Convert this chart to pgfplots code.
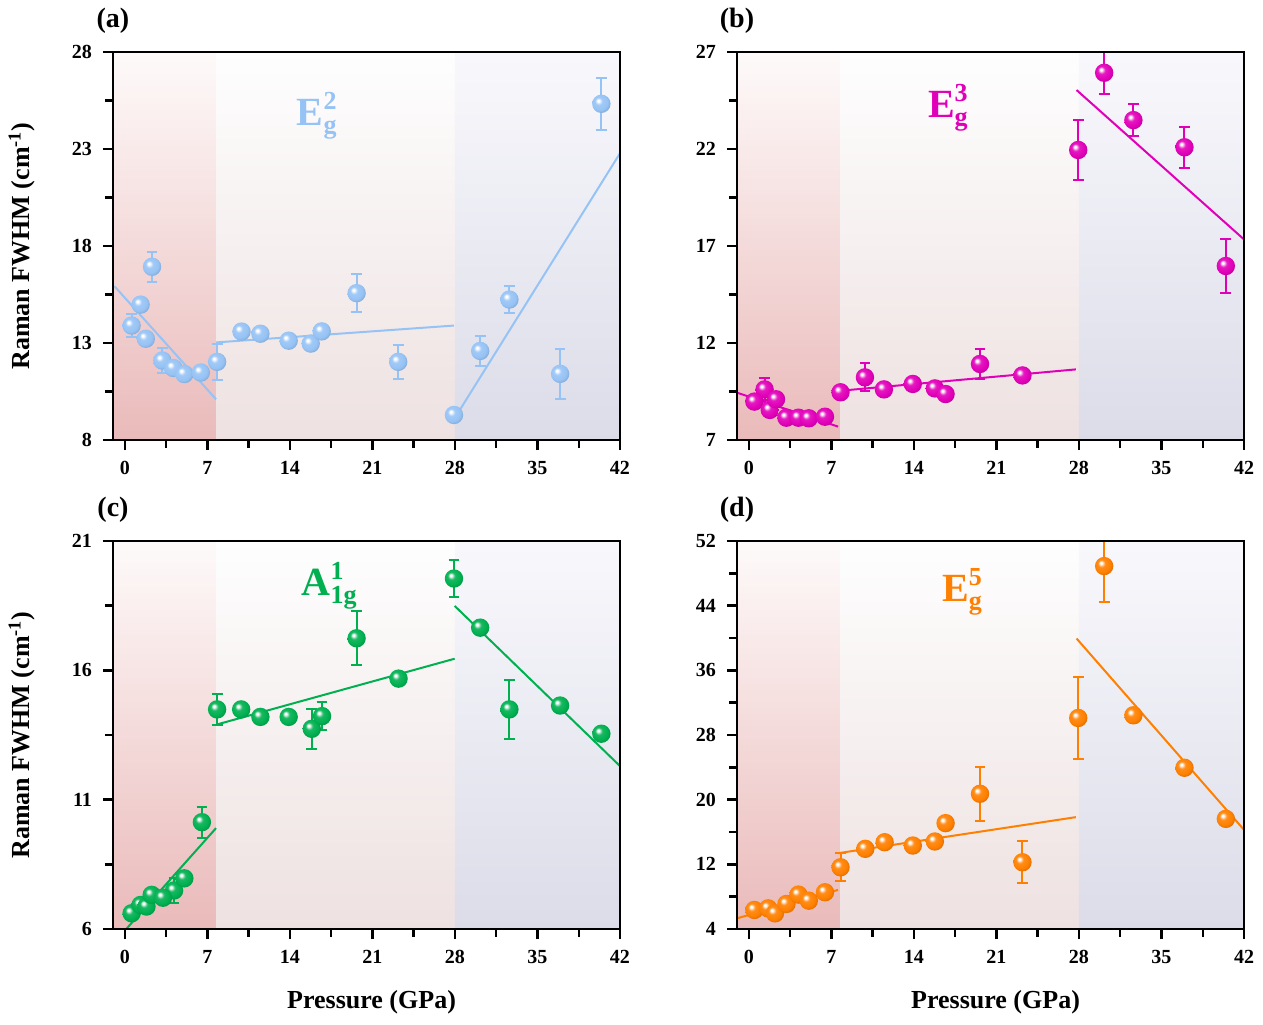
\documentclass[border=0pt]{standalone}
\usepackage{fontspec}
\setmainfont{Liberation Serif}
\usepackage{pgfplots}
\pgfplotsset{compat=1.18}

\definecolor{cA}{RGB}{150,195,245}
\definecolor{cB}{RGB}{225,0,185}
\definecolor{cC}{RGB}{0,176,80}
\definecolor{cD}{RGB}{255,128,0}
\definecolor{bgLt}{RGB}{254,250,250}
\definecolor{bgLb}{RGB}{234,186,186}
\definecolor{bgMt}{RGB}{254,254,254}
\definecolor{bgMb}{RGB}{238,225,225}
\definecolor{bgRt}{RGB}{248,248,252}
\definecolor{bgRb}{RGB}{220,220,233}

\makeatletter
\pgfdeclareradialshading[tikz@ball]{myball}{\pgfqpoint{-9bp}{9bp}}{%
  color(0bp)=(tikz@ball!0!white); color(2.5bp)=(tikz@ball!0!white);
  color(10bp)=(tikz@ball!90!white); color(22bp)=(tikz@ball);
  color(32bp)=(tikz@ball!82!black); color(50bp)=(tikz@ball!75!black)}
\pgfdeclareplotmark{myball}{%
  \pgfpathcircle{\pgfpointorigin}{\pgfplotmarksize}%
  \pgfshadepath{myball}{0}%
  \pgfusepath{discard}}
\makeatother

\pgfplotsset{
  panel/.style={
    width=253.5pt, height=194pt, scale only axis,
    xmin=-1, xmax=42, xtick={0,7,...,42}, minor x tick num=1,
    axis on top, clip mode=individual,
    tick align=outside, xtick pos=bottom, ytick pos=left,
    axis line style={line width=1.2pt},
    every tick/.style={line width=1.2pt, black},
    major tick length=5pt, minor tick length=4pt,
    ticklabel style={font=\fontsize{10}{12}\selectfont\bfseries},
    /pgf/number format/assume math mode=true,
    xticklabel style={yshift=-2pt},
    yticklabel style={xshift=-2pt},
    label style={font=\fontsize{13}{15}\selectfont\bfseries},
  },
  ylab/.style={ylabel={Raman FWHM (cm\textsuperscript{-1})},
    ylabel style={at={(axis description cs:-0.18,0.5)}, anchor=center, rotate=0}},
  xlab/.style={xlabel={Pressure (GPa)},
    xlabel style={at={(axis description cs:0.51,-0.19)}, anchor=center}},
  balls/.style={only marks, mark=myball, mark size=4.6pt, mark options={ball color=#1}},
  errb/.style={only marks, mark=myball, mark size=4.6pt, mark options={ball color=#1},
    error bars/.cd, y dir=both, y explicit,
    error bar style={#1, line width=1pt},
    error mark options={#1, rotate=90, mark size=2.7pt, line width=1pt}},
  fitl/.style={#1, line width=1pt, no marks},
}

\newcommand{\bgs}[2]{%
  \addplot[draw=none, top color=bgLt, bottom color=bgLb] coordinates {(-1,#1) (7.75,#1) (7.75,#2) (-1,#2)} -- cycle;
  \addplot[draw=none, top color=bgMt, bottom color=bgMb] coordinates {(7.75,#1) (28,#1) (28,#2) (7.75,#2)} -- cycle;
  \addplot[draw=none, top color=bgRt, bottom color=bgRb] coordinates {(28,#1) (42,#1) (42,#2) (28,#2)} -- cycle;
}
\newcommand{\plab}[1]{\node[font=\fontsize{14}{16}\selectfont\bfseries] at (rel axis cs:0,1.08) {(#1)};}
\newcommand{\bigf}{\fontsize{20}{22}\selectfont\bfseries}
\newcommand{\smf}{\fontsize{13}{14}\selectfont\bfseries}

\begin{document}
\begin{tikzpicture}[x=1pt,y=1pt]
\useasboundingbox (0,0) rectangle (631.5,-512);

% ---------------- (a)
\begin{axis}[panel, ylab, at={(56.5pt,-220pt)}, anchor=south west,
  ymin=8, ymax=28, ytick={8,13,...,28}, minor y tick num=1]
\bgs{8}{28}
\addplot[fitl=cA] coordinates {(-0.88,15.93) (7.74,10.1)};
\addplot[fitl=cA] coordinates {(7.74,13.03) (27.92,13.9)};
\addplot[fitl=cA] coordinates {(28.27,9.41) (42,22.78)};
\addplot[errb=cA] coordinates {
 (0.58,13.9) +- (0,0.59)
 (2.31,16.93) +- (0,0.76)
 (3.18,12.1) +- (0,0.62)
 (7.83,12.03) +- (0,0.94)
 (19.66,15.57) +- (0,0.99)
 (23.19,12.03) +- (0,0.86)
 (30.14,12.59) +- (0,0.78)
 (32.62,15.24) +- (0,0.69)
 (36.92,11.41) +- (0,1.29)
 (40.42,25.33) +- (0,1.34)
};
\addplot[balls=cA] coordinates {
 (1.34,14.98) (1.78,13.22) (4.12,11.71) (5.05,11.4) (6.45,11.48)
 (9.9,13.59) (11.5,13.48) (13.9,13.12) (15.77,12.97) (16.7,13.6) (27.92,9.29)
};
\node[anchor=base west, text=cA, font=\bigf] at (axis cs:14,24.2)
  {E\rlap{\raisebox{8pt}{\smf 2}}\raisebox{-4pt}{\smf g}};
\plab{a}
\end{axis}

% ---------------- (b)
\begin{axis}[panel, at={(368.5pt,-220pt)}, anchor=south west,
  ymin=7, ymax=27, ytick={7,12,...,27}, minor y tick num=1]
\bgs{7}{27}
\addplot[fitl=cB] coordinates {(-0.99,9.44) (7.57,7.69)};
\addplot[fitl=cB] coordinates {(7.78,9.54) (27.74,10.64)};
\addplot[fitl=cB] coordinates {(27.8,25.04) (42,17.34)};
\addplot[errb=cB] coordinates {
 (1.34,9.61) +- (0,0.57)
 (9.85,10.23) +- (0,0.72)
 (19.61,10.92) +- (0,0.76)
 (27.94,21.95) +- (0,1.54)
 (30.14,25.93) +- (0,1.07)
 (32.62,23.49) +- (0,0.83)
 (36.95,22.09) +- (0,1.07)
 (40.46,15.97) +- (0,1.38)
};
\addplot[balls=cB] coordinates {
 (0.47,8.98) (1.78,8.55) (2.31,9.1) (3.19,8.15) (4.21,8.15) (5.09,8.12) (6.46,8.2)
 (7.78,9.46) (11.46,9.61) (13.91,9.89) (15.78,9.66) (16.69,9.37) (23.21,10.33)
};
\node[anchor=base west, text=cB, font=\bigf] at (axis cs:14.6,23.63)
  {E\rlap{\raisebox{8pt}{\smf 3}}\raisebox{-4pt}{\smf g}};
\plab{b}
\end{axis}

% ---------------- (c)
\begin{axis}[panel, ylab, xlab, at={(56.5pt,-464.5pt)}, anchor=south west,
  ymin=6, ymax=21, ytick={6,11,16,21}, minor y tick num=1]
\bgs{6}{21}
\addplot[fitl=cC] coordinates {(0.18,6.03) (7.74,9.9)};
\addplot[fitl=cC] coordinates {(7.83,13.91) (27.98,16.45)};
\addplot[fitl=cC] coordinates {(27.98,18.49) (42,12.3)};
\addplot[errb=cC] coordinates {
 (4.18,7.49) +- (0,0.5)
 (6.54,10.13) +- (0,0.6)
 (7.83,14.49) +- (0,0.6)
 (15.86,13.74) +- (0,0.78)
 (16.73,14.23) +- (0,0.53)
 (19.66,17.24) +- (0,1.05)
 (27.92,19.55) +- (0,0.73)
 (32.62,14.49) +- (0,1.14)
};
\addplot[balls=cC] coordinates {
 (0.58,6.61) (1.34,6.93) (1.84,6.87) (2.28,7.32) (3.24,7.21) (5.05,7.96)
 (9.87,14.49) (11.5,14.2) (13.9,14.2) (23.22,15.68)
 (30.14,17.65) (36.92,14.64) (40.42,13.55)
};
\node[anchor=base west, text=cC, font=\bigf] at (axis cs:14.4,18.88)
  {A\rlap{\raisebox{8pt}{\smf 1}}\raisebox{-4pt}{\smf 1g}};
\plab{c}
\end{axis}

% ---------------- (d)
\begin{axis}[panel, xlab, at={(368.5pt,-464.5pt)}, anchor=south west,
  ymin=4, ymax=52, ytick={4,12,...,52}, minor y tick num=1]
\bgs{4}{52}
\addplot[fitl=cD] coordinates {(-0.99,5.33) (7.57,8.84)};
\addplot[fitl=cD] coordinates {(7.57,13.38) (27.74,17.84)};
\addplot[fitl=cD] coordinates {(27.8,39.94) (42,16.27)};
\addplot[errb=cD] coordinates {
 (7.78,11.64) +- (0,1.73)
 (19.61,20.73) +- (0,3.35)
 (23.21,12.26) +- (0,2.58)
 (27.94,30.11) +- (0,5.06)
 (30.14,48.9) += (0,3.2) -= (0,4.4)
};
\addplot[balls=cD] coordinates {
 (0.47,6.36) (1.64,6.56) (2.22,5.94) (3.19,7.1) (4.21,8.26) (5.09,7.51) (6.46,8.55)
 (9.88,13.92) (11.52,14.74) (13.91,14.33) (15.78,14.83) (16.69,17.1)
 (32.62,30.44) (36.95,23.95) (40.46,17.63)
};
\node[anchor=base west, text=cD, font=\bigf] at (axis cs:15.8,44.56)
  {E\rlap{\raisebox{8pt}{\smf 5}}\raisebox{-4pt}{\smf g}};
\plab{d}
\end{axis}
\end{tikzpicture}
\end{document}
